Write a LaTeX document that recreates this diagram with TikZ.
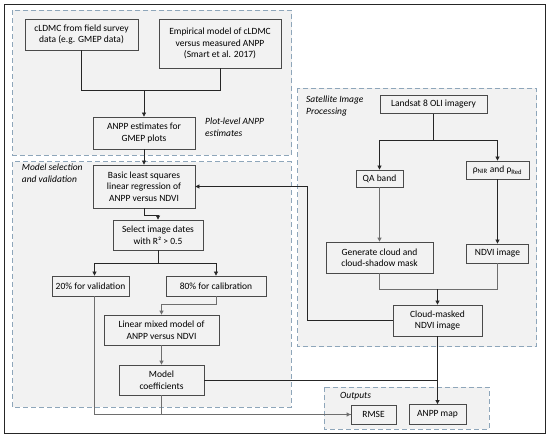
\documentclass[tikz,border=0pt]{standalone}
\usepackage{fontspec}
\setmainfont{Carlito}
\usetikzlibrary{arrows.meta}
\definecolor{grpfill}{HTML}{F2F2F2}
\definecolor{grpline}{HTML}{8EA6BA}
\definecolor{boxline}{HTML}{4A4A4A}
\definecolor{darkln}{HTML}{262626}
\definecolor{grayln}{HTML}{6E6E6E}
\tikzset{
  grp/.style={draw=grpline, fill=grpfill, dash pattern=on 5pt off 3pt, line width=0.8pt},
  box/.style={draw=boxline, fill=grpfill, line width=0.8pt, align=center, inner sep=0pt,
    font=\fontsize{9.5}{11.5}\selectfont},
  lbl/.style={align=left, inner sep=0pt, anchor=north west, font=\fontsize{9.5}{11.5}\selectfont\itshape},
  conn/.style={draw=darkln, line width=0.7pt},
  gconn/.style={draw=grayln, line width=0.8pt},
  arr/.style={-{Triangle[length=4pt,width=4pt]}},
}
\begin{document}
\begin{tikzpicture}[x=1pt,y=-1pt]
\useasboundingbox (0,0) rectangle (550,439);
\fill[white] (0,0) rectangle (550,439);
\draw[draw=darkln, line width=1pt] (4,4) rectangle (545.5,433);
% groups
\draw[grp] (12.7,10) rectangle (291.5,155);
\draw[grp] (12.7,161.7) rectangle (291,407);
\draw[grp] (297.5,88.3) rectangle (536.7,346.5);
\draw[grp] (324.3,387.3) rectangle (489,429.3);
% labels
\node[lbl] (l1) at (205,118) {Plot-level ANPP\\estimates};
\node[lbl] (l2) at (21.7,164) {Model selection\\and validation};
\node[lbl] (l3) at (306,96) {Satellite Image\\Processing};
\node[lbl] (l4) at (340,392) {Outputs};
% boxes
\node[box, minimum width=113pt, minimum height=31pt] (cldmc) at (81.5,34.5) {cLDMC from field survey\\data (e.g. GMEP data)};
\node[box, minimum width=122pt, minimum height=49pt] (emp) at (220,43.5) {Empirical model of cLDMC\\versus measured ANPP\\(Smart et al. 2017)};
\node[box, minimum width=102pt, minimum height=32pt] (anpp) at (144,133) {ANPP estimates for\\GMEP plots};
\node[box, minimum width=102pt, minimum height=43pt] (basic) at (144,186.5) {Basic least squares\\linear regression of\\ANPP versus NDVI};
\node[box, minimum width=90pt, minimum height=30pt] (select) at (158,235) {Select image dates\\with R² > 0.5};
\node[box, minimum width=77pt, minimum height=20pt] (v20) at (90.5,286) {20\% for validation};
\node[box, minimum width=100pt, minimum height=20pt] (c80) at (216,286) {80\% for calibration};
\node[box, minimum width=115pt, minimum height=30pt] (lmm) at (161.5,330) {Linear mixed model of\\ANPP versus NDVI};
\node[box, minimum width=85pt, minimum height=30pt] (coef) at (161.5,380) {Model\\coefficients};
\node[box, minimum width=107pt, minimum height=17.5pt] (landsat) at (433.5,104.5) {Landsat 8 OLI imagery};
\node[box, minimum width=47pt, minimum height=17pt] (qa) at (379.5,178.5) {QA band};
\node[box, minimum width=63pt, minimum height=18pt] (rho) at (497.5,170) {ρ\textsubscript{NIR} and ρ\textsubscript{Red}};
\node[box, minimum width=107pt, minimum height=31pt] (gen) at (379.5,257.5) {Generate cloud and\\cloud-shadow mask};
\node[box, minimum width=62pt, minimum height=19pt] (ndvi) at (497.5,253.5) {NDVI image};
\node[box, minimum width=89pt, minimum height=31pt] (cloud) at (437.5,320.5) {Cloud-masked\\NDVI image};
\node[box, minimum width=45pt, minimum height=19pt] (rmse) at (373.5,414.5) {RMSE};
\node[box, minimum width=57pt, minimum height=20pt] (map) at (437.5,414.5) {ANPP map};
% junctions
\coordinate (j1) at (144,90);
\coordinate (j2) at (158,263.3);
\coordinate (j4) at (437.5,289.3);
\coordinate (j5) at (433.5,140.7);
% connectors
\draw[conn] (cldmc.south) |- (j1);
\draw[conn] (emp.south) |- (j1);
\draw[conn,arr] (j1) -- (anpp.north);
\draw[conn,arr] (anpp.south) -- (basic.north);
\draw[conn,arr] (basic.south) -- ++(0,7) -| (select.north);
\draw[conn] (select.south) -- (j2);
\draw[conn,arr] (j2) -| ([xshift=4pt]v20.north);
\draw[conn,arr] (j2) -| (c80.north);
\draw[gconn,arr] (c80.south) -- ++(0,8) -| (lmm.north);
\draw[gconn,arr] (lmm.south) -- (coef.north);
\draw[conn] (coef.east) -- (coef.east -| cloud.south);
\draw[gconn,arr] ([xshift=4pt]v20.south) |- (rmse.west);
\draw[gconn] (coef.south) |- (rmse.west);
\draw[conn,arr] (cloud.west) -- ++(-85,0) |- (basic.east);
\draw[conn] (landsat.south) -- (j5);
\draw[conn,arr] (j5) -| (qa.north);
\draw[conn,arr] (j5) -| (rho.north);
\draw[gconn,arr] (qa.south) -- (gen.north);
\draw[conn,arr] (rho.south) -- (ndvi.north);
\draw[gconn] (gen.south) |- (j4);
\draw[gconn] (ndvi.south) |- (j4);
\draw[conn,arr] (j4) -- (cloud.north);
\draw[conn,arr] (cloud.south) -- (map.north);
\end{tikzpicture}
\end{document}
